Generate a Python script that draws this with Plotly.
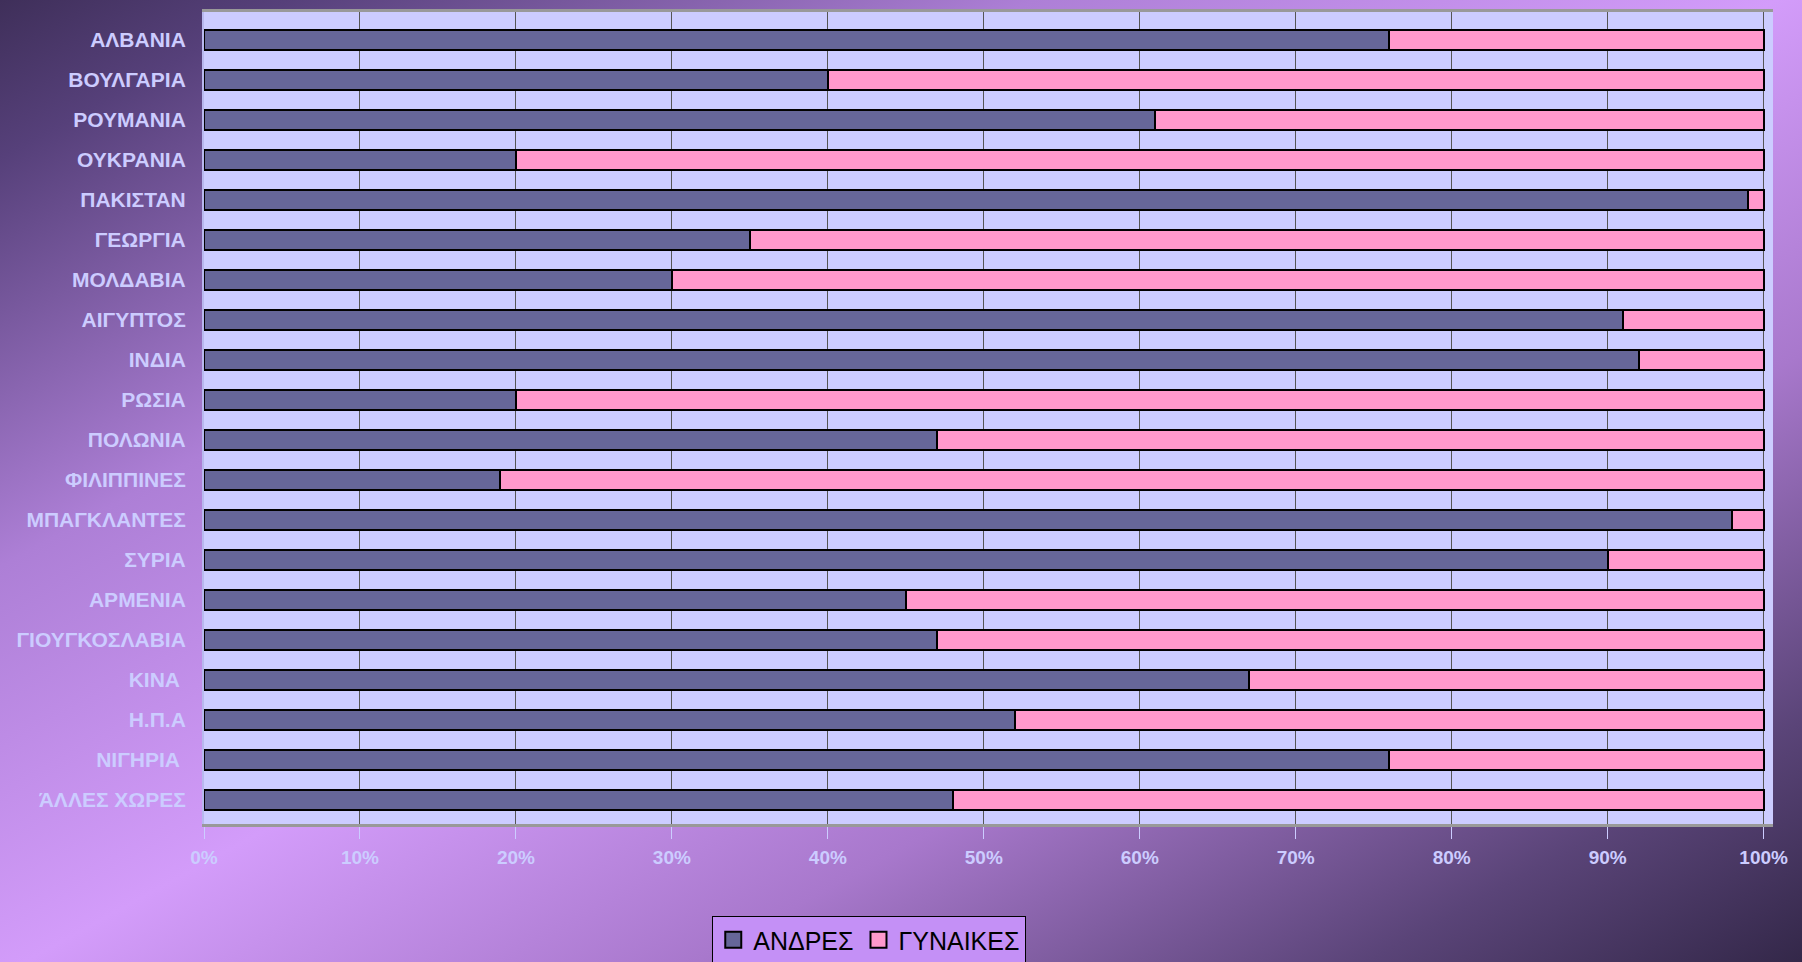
import base64
import plotly.graph_objects as go

countries = ["ΑΛΒΑΝΙΑ", "ΒΟΥΛΓΑΡΙΑ", "ΡΟΥΜΑΝΙΑ", "ΟΥΚΡΑΝΙΑ", "ΠΑΚΙΣΤΑΝ", "ΓΕΩΡΓΙΑ",
             "ΜΟΛΔΑΒΙΑ", "ΑΙΓΥΠΤΟΣ", "ΙΝΔΙΑ", "ΡΩΣΙΑ", "ΠΟΛΩΝΙΑ", "ΦΙΛΙΠΠΙΝΕΣ",
             "ΜΠΑΓΚΛΑΝΤΕΣ", "ΣΥΡΙΑ", "ΑΡΜΕΝΙΑ", "ΓΙΟΥΓΚΟΣΛΑΒΙΑ", "ΚΙΝΑ ", "Η.Π.Α",
             "ΝΙΓΗΡΙΑ ", "ΆΛΛΕΣ ΧΩΡΕΣ"]
men = [76, 40, 61, 20, 99, 35, 30, 91, 92, 20, 47, 19, 98, 90, 45, 47, 67, 52, 76, 48]
women = [24, 60, 39, 80, 1, 65, 70, 9, 8, 80, 53, 81, 2, 10, 55, 53, 33, 48, 24, 52]
x_ticks = [0, 10, 20, 30, 40, 50, 60, 70, 80, 90, 100]
x_tick_labels = ["0%", "10%", "20%", "30%", "40%", "50%", "60%", "70%", "80%", "90%", "100%"]
series_names = ["ΑΝΔΡΕΣ", "ΓΥΝΑΙΚΕΣ"]
series_colors = ["#666699", "#ff99cc"]

W, H = 1802, 962
ML, MR, MT, MB = 204, 29, 12, 138
PW, PH = W - ML - MR, H - MT - MB

svg = """<svg xmlns='http://www.w3.org/2000/svg' width='1802' height='962' viewBox='0 0 1802 962' preserveAspectRatio='none'>
<defs><linearGradient id='g' x1='0' y1='0' x2='1' y2='1'>
<stop offset='0' stop-color='#382a50'/>
<stop offset='0.1' stop-color='#56407a'/>
<stop offset='0.3' stop-color='#ad7fd6'/>
<stop offset='0.5' stop-color='#d39cfa'/>
<stop offset='0.68' stop-color='#a878cc'/>
<stop offset='0.86' stop-color='#5a4478'/>
<stop offset='1' stop-color='#2c2240'/>
</linearGradient></defs>
<rect width='1802' height='962' fill='url(#g)'/></svg>"""
bg_src = "data:image/svg+xml;base64," + base64.b64encode(svg.encode()).decode()

fig = go.Figure()
for name, vals, col in zip(series_names, [men, women], series_colors):
    fig.add_trace(go.Bar(
        y=countries, x=vals, name=name, orientation="h", showlegend=False,
        marker=dict(color=col, line=dict(color="#000000", width=2)),
    ))
for name, col in zip(series_names, series_colors):
    fig.add_trace(go.Scatter(
        x=[None], y=[None], mode="markers", name=name,
        marker=dict(symbol="square", size=16, color=col, line=dict(color="#000000", width=2)),
    ))

pad = 30
fig.update_layout(
    width=W, height=H,
    barmode="stack", bargap=0.48,
    paper_bgcolor="#9a72c4",
    plot_bgcolor="#ccccff",
    margin=dict(l=ML, r=MR, t=MT, b=MB, autoexpand=False),
    font=dict(family="Liberation Sans, Arial, sans-serif", color="#ccccff"),
    images=[dict(source=bg_src, xref="paper", yref="paper",
                 x=-(ML + pad) / PW, y=1 + (MT + pad) / PH,
                 sizex=(W + 2 * pad) / PW, sizey=(H + 2 * pad) / PH,
                 xanchor="left", yanchor="top", sizing="stretch", layer="below")],
    shapes=[dict(type="rect", xref="x domain", yref="y domain", x0=0, x1=1, y0=0, y1=1,
                 fillcolor="#ccccff", line=dict(width=0), layer="below")],
    legend=dict(
        orientation="h", traceorder="normal",
        x=0.424, xanchor="center", y=-(916 - (MT + PH)) / PH, yanchor="top",
        bgcolor="#c490f6", bordercolor="#000000", borderwidth=1,
        font=dict(size=25, color="#000000", family="Liberation Sans, Arial, sans-serif"),
        itemwidth=30, tracegroupgap=0,
    ),
    xaxis=dict(
        range=[0, 100.6], tickvals=x_ticks, ticktext=x_tick_labels,
        showgrid=True, gridcolor="#555555", gridwidth=1,
        ticks="outside", ticklen=12, tickcolor="#ccccff", ticklabelstandoff=2,
        tickfont=dict(size=19, color="#ccccff", family="Liberation Sans, Arial, sans-serif",
                      weight="bold"),
        showline=True, linecolor="#999999", linewidth=3, mirror=True,
        zeroline=False, fixedrange=True,
    ),
    yaxis=dict(
        categoryorder="array", categoryarray=countries, range=[19.6, -0.7],
        ticks="outside", ticklen=12, tickcolor="rgba(0,0,0,0)",
        tickfont=dict(size=21, color="#ccccff", family="Liberation Sans, Arial, sans-serif",
                      weight="bold"),
        showline=True, linecolor="#b8b8ee", linewidth=2, mirror=False,
        showgrid=False, fixedrange=True,
    ),
)

fig.write_html("out.html", config={"displayModeBar": False},
               post_script="document.body.style.margin='0';document.body.style.overflow='hidden';")
